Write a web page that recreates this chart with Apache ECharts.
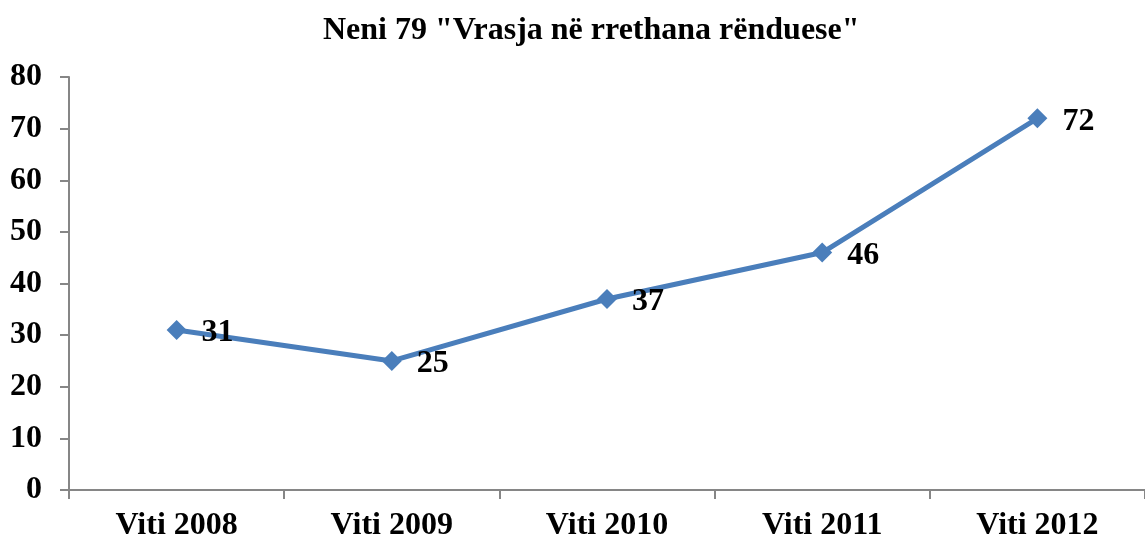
<!DOCTYPE html>
<html>
<head>
<meta charset="utf-8">
<script src="https://cdn.jsdelivr.net/npm/echarts@6/dist/echarts.min.js"></script>
<style>
  html, body { margin: 0; padding: 0; background: #fff; }
  #chart { width: 1145px; height: 542px; }
</style>
</head>
<body>
<div id="chart"></div>
<script>
const title = 'Neni 79 "Vrasja në rrethana rënduese"';
const categories = ['Viti 2008', 'Viti 2009', 'Viti 2010', 'Viti 2011', 'Viti 2012'];
const values = [31, 25, 37, 46, 72];

const font = '"Liberation Serif", "Times New Roman", serif';
const axisColor = '#868686';

const chart = echarts.init(document.getElementById('chart'));
chart.setOption({
  backgroundColor: '#fff',
  animation: false,
  title: {
    text: title,
    left: 318,
    top: 10,
    textStyle: { fontFamily: font, fontWeight: 'bold', fontSize: 32, color: '#000' }
  },
  // axis runs slightly past the right edge, as in the original
  grid: { left: 69, right: -5, top: 77, bottom: 52, containLabel: false },
  xAxis: {
    type: 'category',
    data: categories,
    boundaryGap: true,
    axisLine: { lineStyle: { color: axisColor, width: 2 } },
    axisTick: { show: true, length: 9, alignWithLabel: false, lineStyle: { color: axisColor, width: 2 } },
    axisLabel: { margin: 20, fontFamily: font, fontWeight: 'bold', fontSize: 32, color: '#000' }
  },
  yAxis: {
    type: 'value',
    min: 0,
    max: 80,
    interval: 10,
    splitLine: { show: false },
    axisLine: { show: true, lineStyle: { color: axisColor, width: 2 } },
    axisTick: { show: true, length: 9, lineStyle: { color: axisColor, width: 2 } },
    axisLabel: { margin: 27, fontFamily: font, fontWeight: 'bold', fontSize: 32, color: '#000' }
  },
  series: [{
    type: 'line',
    data: values,
    symbol: 'diamond',
    symbolSize: 20,
    lineStyle: { color: '#4a7ebb', width: 5 },
    itemStyle: { color: '#4a7ebb' },
    label: {
      show: true,
      position: 'right',
      distance: 15,
      offset: [0, 3],
      fontFamily: font,
      fontWeight: 'bold',
      fontSize: 32,
      color: '#000'
    }
  }]
});
</script>
</body>
</html>
